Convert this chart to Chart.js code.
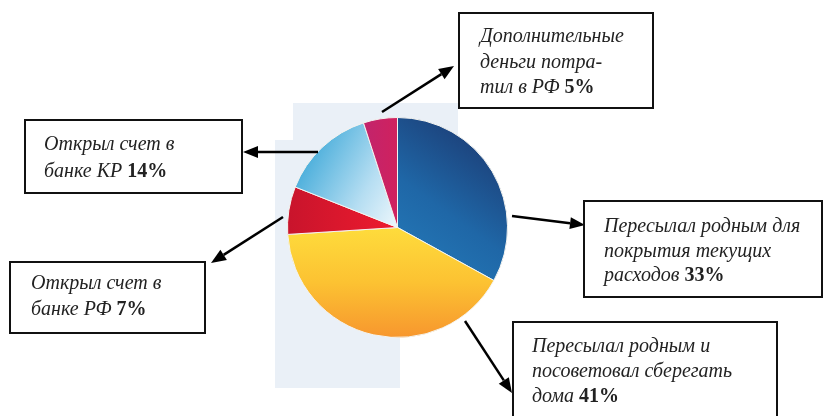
<!DOCTYPE html>
<html>
<head>
<meta charset="utf-8">
<script src="https://cdn.jsdelivr.net/npm/chart.js@4/dist/chart.umd.min.js"></script>
<style>
  html, body { margin: 0; padding: 0; background: #fff; }
</style>
</head>
<body>
<canvas id="pie" width="823" height="416"></canvas>
<script>
// ------------- Данные -------------
const labels = [
  'Пересылал родным для покрытия текущих расходов',
  'Пересылал родным и посоветовал сберегать дома',
  'Открыл счет в банке РФ',
  'Открыл счет в банке КР',
  'Дополнительные деньги потратил в РФ'
];
const values = [33, 41, 7, 14, 5];
// строки подписей (как в оригинале, с переносами)
const labelLines = [
  ['Пересылал родным для', 'покрытия текущих', 'расходов'],
  ['Пересылал родным и', 'посоветовал сберегать', 'дома'],
  ['Открыл счет в', 'банке РФ'],
  ['Открыл счет в', 'банке КР'],
  ['Дополнительные', 'деньги потра-', 'тил в РФ']
];

// ------------- Раскладка (рамки: x, y, w, h, текст x, первая строка y, шаг) -------------
const boxes = [
  { x: 584, y: 201, w: 238, h: 96,  tx: 604, ty: 227, step: 24.5 },
  { x: 513, y: 322, w: 264, h: 110, tx: 532, ty: 347, step: 25 },
  { x: 10,  y: 262, w: 195, h: 71,  tx: 31,  ty: 284, step: 26 },
  { x: 25,  y: 120, w: 217, h: 73,  tx: 44,  ty: 145, step: 27 },
  { x: 459, y: 13,  w: 194, h: 95,  tx: 480, ty: 37,  step: 25.5 }
];
const arrows = [
  [512, 216, 585, 225],
  [465, 321, 512, 393],
  [283, 217, 211, 263],
  [318, 152, 243, 152],
  [382, 112, 454, 66]
];
const FONT_IT = 'italic 20px "Liberation Serif", "Times New Roman", serif';
const FONT_BD = 'bold 20px "Liberation Serif", "Times New Roman", serif';

// ------------- Градиенты -------------
function sliceFill(ctx) {
  const chart = ctx.chart;
  const a = chart.chartArea;
  const solid = ['#2166a6', '#fbbf35', '#dc1a2e', '#9fd3ee', '#c4236c'];
  if (!a) return solid[ctx.dataIndex];
  const c = chart.ctx;
  const cx = (a.left + a.right) / 2, cy = (a.top + a.bottom) / 2;
  const r = Math.min(a.width, a.height) / 2;
  let g;
  switch (ctx.dataIndex) {
    case 0:
      g = c.createLinearGradient(cx + r * 0.8, cy - r * 0.8, cx, cy + r * 0.3);
      g.addColorStop(0, '#1c3f78'); g.addColorStop(0.55, '#1f67a7'); g.addColorStop(1, '#2479b8');
      return g;
    case 1:
      g = c.createLinearGradient(0, cy, 0, cy + r);
      g.addColorStop(0, '#fedc3c'); g.addColorStop(0.5, '#fcc232'); g.addColorStop(1, '#f7962e');
      return g;
    case 2:
      g = c.createLinearGradient(cx - r, 0, cx, 0);
      g.addColorStop(0, '#c8142c'); g.addColorStop(1, '#ee1b2e');
      return g;
    case 3:
      g = c.createLinearGradient(cx - r * 0.9, cy - r * 0.5, cx, cy);
      g.addColorStop(0, '#4aaedb'); g.addColorStop(0.6, '#b6def2'); g.addColorStop(1, '#eef7fc');
      return g;
    default:
      g = c.createLinearGradient(cx - r * 0.3, 0, cx, 0);
      g.addColorStop(0, '#c2246c'); g.addColorStop(1, '#d0215e');
      return g;
  }
}

// ------------- Фон, стрелки, подписи -------------
const decor = {
  id: 'decor',
  beforeDraw(chart) {
    const c = chart.ctx;
    c.save();
    c.fillStyle = '#eaf0f7';
    c.fillRect(293, 103, 165, 40);
    c.fillRect(275, 140, 125, 248);
    c.restore();
  },
  afterDraw(chart) {
    const c = chart.ctx;
    c.save();
    c.strokeStyle = '#000'; c.fillStyle = '#000'; c.lineWidth = 2.5;
    arrows.forEach(([x1, y1, x2, y2]) => {
      const ang = Math.atan2(y2 - y1, x2 - x1);
      const len = 15, half = 6;
      const bx = x2 - Math.cos(ang) * len, by = y2 - Math.sin(ang) * len;
      c.beginPath(); c.moveTo(x1, y1); c.lineTo(bx, by); c.stroke();
      c.beginPath();
      c.moveTo(x2, y2);
      c.lineTo(bx - Math.sin(ang) * half, by + Math.cos(ang) * half);
      c.lineTo(bx + Math.sin(ang) * half, by - Math.cos(ang) * half);
      c.closePath(); c.fill();
    });

    // рамки с текстом
    boxes.forEach((b, i) => {
      c.fillStyle = '#fff';
      c.fillRect(b.x, b.y, b.w, b.h);
      c.strokeStyle = '#111'; c.lineWidth = 2;
      c.strokeRect(b.x, b.y, b.w, b.h);
      c.fillStyle = '#222';
      c.textBaseline = 'middle';
      c.textAlign = 'left';
      const lines = labelLines[i];
      lines.forEach((ln, k) => {
        const y = b.ty + k * b.step;
        c.font = FONT_IT;
        c.fillText(ln, b.tx, y);
        if (k === lines.length - 1) {
          const w = c.measureText(ln + ' ').width;
          c.font = FONT_BD;
          c.fillText(values[i] + '%', b.tx + w, y);
        }
      });
    });
    c.restore();
  }
};

new Chart(document.getElementById('pie'), {
  type: 'pie',
  data: {
    labels,
    datasets: [{ data: values, backgroundColor: sliceFill, borderColor: '#f4f4f0', borderWidth: 1 }]
  },
  options: {
    animation: false,
    responsive: false,
    layout: { padding: { left: 287, right: 315, top: 117, bottom: 78 } },
    plugins: { legend: { display: false }, tooltip: { enabled: false } }
  },
  plugins: [decor]
});
</script>
</body>
</html>
